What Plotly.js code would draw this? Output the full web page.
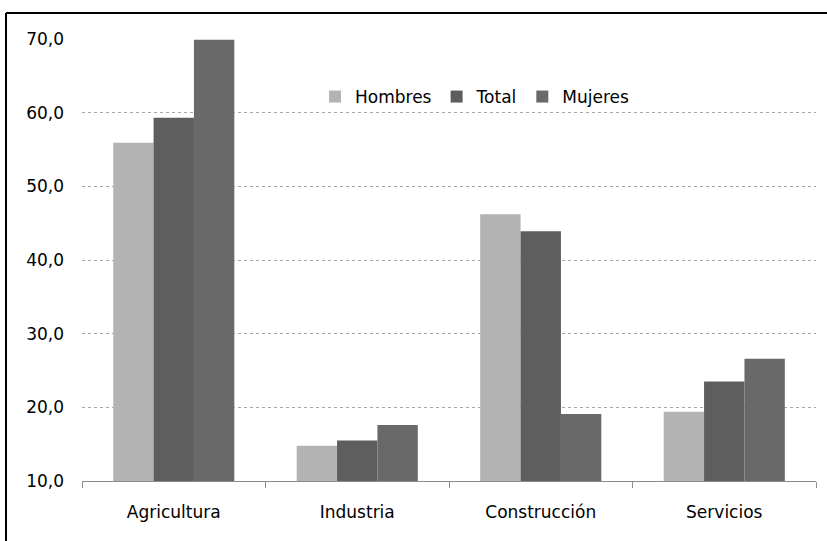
<!DOCTYPE html>
<html>
<head>
<meta charset="utf-8">
<script src="https://cdn.plot.ly/plotly-3.0.1.min.js"></script>
<style>
  html, body { margin: 0; padding: 0; background: #fff; }
  #chart { width: 827px; height: 541px; }
</style>
</head>
<body>
<div id="chart"></div>
<script>
const categories = ["Agricultura", "Industria", "Construcción", "Servicios"];
const hombres = [55.9, 14.8, 46.2, 19.4];
const total   = [59.3, 15.5, 43.9, 23.5];
const mujeres = [69.9, 17.6, 19.1, 26.6];
const seriesNames = ["Hombres", "Total", "Mujeres"];
const seriesColors = ["#b3b3b3", "#5e5e5e", "#696969"];

const W = 827, H = 541;
const M = {l: 82, r: 11, t: 39, b: 60};
const pw = W - M.l - M.r, ph = H - M.t - M.b;
const px2x = p => (p - M.l) / pw;
const px2y = p => (H - M.b - p) / ph;

const font = "DejaVu Sans, Liberation Sans, Arial, sans-serif";
const textColor = "#000000";

const traces = [hombres, total, mujeres].map((vals, i) => ({
  type: "bar",
  name: seriesNames[i],
  x: categories,
  y: vals,
  marker: {color: seriesColors[i], line: {width: 0}},
  hoverinfo: "x+y+name"
}));

const layout = {
  width: W, height: H,
  margin: M,
  paper_bgcolor: "#ffffff",
  plot_bgcolor: "#ffffff",
  separators: ",.",
  barmode: "group",
  bargap: 0.34,
  bargroupgap: 0,
  font: {family: font, size: 17, color: textColor},
  showlegend: true,
  legend: {
    orientation: "h",
    x: px2x(315), xanchor: "left",
    y: px2y(97), yanchor: "middle",
    bgcolor: "rgba(255,255,255,0)",
    font: {family: font, size: 17, color: textColor},
    itemwidth: 30,
    traceorder: "normal"
  },
  xaxis: {
    type: "category",
    showgrid: false,
    showline: true,
    linecolor: "#8c8c8c",
    linewidth: 1,
    ticks: "outside",
    tickson: "boundaries",
    ticklen: 6,
    tickcolor: "#8c8c8c",
    ticklabelstandoff: 16,
    tickfont: {family: font, size: 17, color: textColor},
    zeroline: false
  },
  yaxis: {
    range: [10, 70],
    dtick: 10,
    tick0: 10,
    tickformat: ".1f",
    showgrid: true,
    gridcolor: "#a6a6a6",
    gridwidth: 1,
    griddash: "3px,3px",
    showline: false,
    zeroline: false,
    ticks: "",
    ticklabelstandoff: 17,
    tickfont: {family: font, size: 17, color: textColor}
  },
  shapes: [
    {type: "line", xref: "paper", yref: "paper",
     x0: px2x(6), x1: px2x(W + 10), y0: px2y(13), y1: px2y(13),
     line: {color: "#000000", width: 2}},
    {type: "line", xref: "paper", yref: "paper",
     x0: px2x(6), x1: px2x(6), y0: px2y(13), y1: px2y(H + 10),
     line: {color: "#000000", width: 2}}
  ]
};

Plotly.newPlot("chart", traces, layout, {displayModeBar: false, staticPlot: true});
</script>
</body>
</html>
